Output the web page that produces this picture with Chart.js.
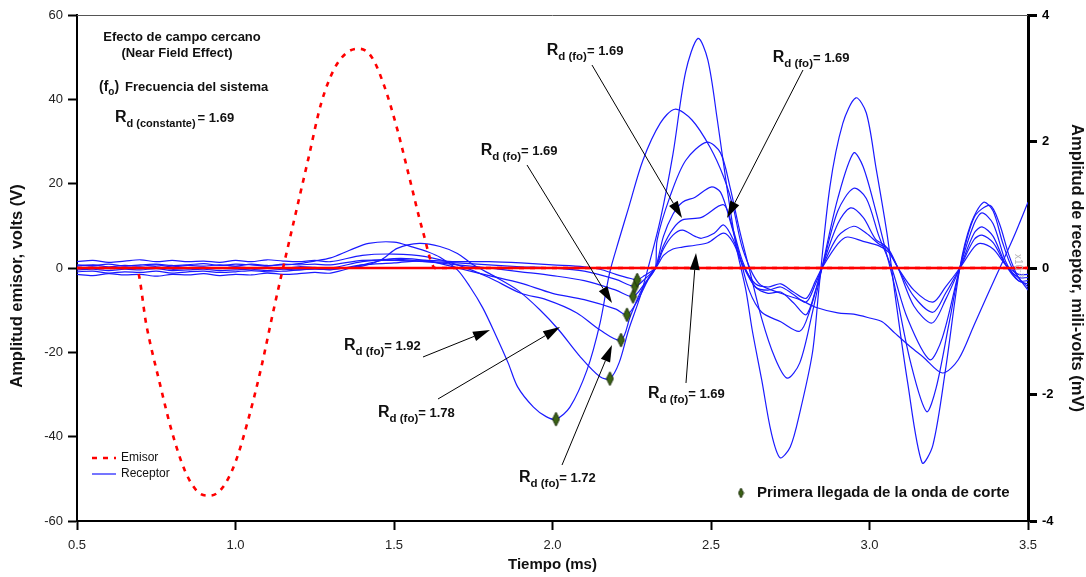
<!DOCTYPE html>
<html>
<head>
<meta charset="utf-8">
<script src="https://cdn.jsdelivr.net/npm/chart.js@4.4.1/dist/chart.umd.min.js"></script>
<style>
  html, body { margin: 0; padding: 0; background: #ffffff; }
  #wrap { width: 1086px; height: 577px; }
</style>
</head>
<body>
<div id="wrap"><canvas id="c" width="1086" height="577"></canvas></div>
<script>
// ---- Emitter pulse (V) ----
const emisorT = [0.50,0.687,0.72,0.76,0.80,0.84,0.88,0.92,0.96,1.00,1.04,1.08,1.12,1.15,1.19,1.23,1.27,1.31,1.35,1.39,1.43,1.47,1.51,1.55,1.59,1.63,3.50];
const emisorV = [0,0,-14,-27,-39,-48,-53,-54,-52,-46,-36,-24,-10,0,13,26,39,47,51,52,50,43,33,21,9,0,0];

// ---- Receiver traces (mV): pre-signal noise on a shared grid ----
const tEarly = [0.50,0.55,0.60,0.65,0.70,0.75,0.80,0.85,0.90,0.95,1.00,1.05,1.10,1.15,1.20,1.25];
const noiseA = [0.03,0.05,0.02,0.04,0.03,0.05,0.02,0.04,0.03,0.05,0.03,0.06,0.04,0.05,0.07,0.11];
const noiseB = [-0.06,-0.05,-0.08,-0.06,-0.07,-0.05,-0.08,-0.06,-0.05,-0.07,-0.06,-0.04,-0.06,-0.05,-0.03,-0.02];
const noiseC = [0.10,0.12,0.09,0.11,0.13,0.10,0.12,0.10,0.11,0.09,0.12,0.10,0.13,0.11,0.10,0.12];
const noiseD = [-0.10,-0.12,-0.09,-0.11,-0.10,-0.13,-0.10,-0.11,-0.09,-0.12,-0.10,-0.11,-0.08,-0.10,-0.09,-0.07];
const noiseE = [0.00,0.02,-0.01,0.01,0.00,0.02,-0.02,0.00,0.01,-0.01,0.02,0.00,0.01,-0.01,0.02,0.01];
const noiseF = [0.05,0.04,0.06,0.03,0.05,0.06,0.04,0.05,0.07,0.04,0.06,0.05,0.03,0.06,0.05,0.06];
const noiseG = [-0.03,-0.02,-0.04,-0.02,-0.03,-0.01,-0.04,-0.03,-0.02,-0.04,-0.03,-0.02,-0.04,-0.02,-0.03,-0.01];

// ---- Receiver traces (mV): signal part ----
const tA = [1.30,1.36,1.42,1.50,1.56,1.61,1.645,1.70,1.74,1.78,1.82,1.86,1.89,1.94,1.98,2.011,2.055,2.109,2.15,2.18,2.21,2.24,2.285,2.34,2.386,2.44,2.497,2.54,2.57,2.60,2.65,2.72,2.78,2.83,2.90,2.95,3.00,3.04,3.08,3.13,3.17,3.23,3.28,3.33,3.37,3.42,3.46,3.50];
const vA = [0.16,0.28,0.39,0.41,0.33,0.25,0.17,-0.03,-0.30,-0.63,-1.05,-1.50,-1.88,-2.20,-2.35,-2.39,-2.20,-1.61,-0.87,-0.08,0.45,0.95,1.70,2.29,2.51,2.34,1.91,1.44,0.96,0.30,-0.24,-0.40,-0.50,-0.62,-0.71,-0.73,-0.79,-0.85,-1.03,-1.25,-1.41,-1.66,-1.45,-0.90,-0.45,0.10,0.55,1.04];

const tB = [1.30,1.40,1.46,1.51,1.58,1.645,1.70,1.75,1.82,1.89,1.96,2.02,2.087,2.15,2.181,2.21,2.24,2.276,2.30,2.34,2.38,2.42,2.459,2.49,2.52,2.55,2.58,2.61,2.63,2.66,2.69,2.718,2.75,2.78,2.82,2.84,2.875,2.916,2.957,2.99,3.02,3.055,3.08,3.12,3.166,3.20,3.24,3.285,3.32,3.36,3.39,3.42,3.45,3.50];
const vB = [-0.02,0.03,0.13,0.31,0.39,0.34,0.23,0.05,-0.14,-0.35,-0.66,-0.98,-1.40,-1.72,-1.75,-1.50,-0.98,-0.46,-0.03,0.76,1.80,3.10,3.63,3.29,2.34,1.28,0.33,-0.35,-0.98,-1.77,-2.60,-3.00,-2.83,-2.29,-1.34,-0.35,1.28,2.29,2.69,2.45,1.60,0.55,-0.40,-1.80,-3.08,-2.80,-1.60,0.00,0.70,1.04,0.90,0.40,0.00,-0.35];

const tC = [1.30,1.40,1.50,1.60,1.70,1.80,1.90,1.98,2.077,2.15,2.216,2.245,2.276,2.31,2.325,2.33,2.37,2.42,2.487,2.53,2.56,2.59,2.62,2.66,2.70,2.74,2.78,2.82,2.85,2.90,2.95,2.98,3.02,3.05,3.08,3.13,3.18,3.21,3.25,3.285,3.33,3.38,3.41,3.44,3.47,3.50];
const vC = [0.10,0.20,0.22,0.18,0.05,-0.15,-0.40,-0.50,-0.71,-0.98,-1.14,-0.77,-0.40,-0.10,0.00,0.44,1.12,1.70,1.99,1.82,1.28,0.60,0.00,-0.80,-1.40,-1.74,-1.50,-0.70,0.00,1.10,1.82,1.60,0.90,0.30,-0.30,-1.50,-2.27,-1.90,-0.90,0.00,0.80,0.99,0.70,0.20,-0.15,-0.30];

const tD = [1.30,1.40,1.50,1.60,1.70,1.80,1.90,2.00,2.10,2.20,2.235,2.27,2.30,2.325,2.35,2.38,2.41,2.45,2.50,2.53,2.56,2.59,2.62,2.66,2.72,2.78,2.81,2.85,2.90,2.95,2.99,3.03,3.07,3.12,3.19,3.23,3.285,3.33,3.355,3.39,3.43,3.47,3.50];
const vD = [-0.08,0.05,0.15,0.12,0.00,-0.12,-0.24,-0.40,-0.50,-0.65,-0.74,-0.50,-0.20,0.00,0.50,0.85,1.04,1.12,1.28,1.20,0.75,0.20,-0.35,-0.70,-0.85,-1.00,-0.70,0.00,0.90,1.26,1.10,0.50,0.00,-0.80,-1.45,-1.10,0.00,0.70,0.87,0.70,0.10,-0.20,-0.25];

const tE = [1.30,1.40,1.50,1.60,1.70,1.80,1.90,2.00,2.10,2.20,2.254,2.29,2.325,2.35,2.38,2.41,2.47,2.54,2.57,2.60,2.64,2.68,2.72,2.76,2.80,2.83,2.85,2.90,2.94,2.98,3.02,3.05,3.09,3.14,3.197,3.24,3.285,3.33,3.355,3.39,3.43,3.47,3.50];
const vE = [0.00,0.10,0.14,0.10,0.05,0.00,-0.06,-0.12,-0.20,-0.35,-0.45,-0.25,0.00,0.35,0.62,0.76,0.80,1.00,0.60,0.10,-0.30,-0.40,-0.38,-0.55,-0.74,-0.35,0.00,0.70,0.95,0.80,0.45,0.35,0.00,-0.60,-0.87,-0.50,0.00,0.55,0.65,0.50,0.05,-0.20,-0.20];

const tF = [1.30,1.40,1.50,1.60,1.70,1.80,1.90,2.00,2.10,2.20,2.26,2.29,2.325,2.35,2.38,2.41,2.45,2.47,2.51,2.54,2.57,2.60,2.64,2.68,2.72,2.76,2.80,2.83,2.85,2.90,2.95,2.99,3.03,3.06,3.09,3.14,3.20,3.24,3.285,3.33,3.355,3.39,3.43,3.47,3.50];
const vF = [0.05,0.12,0.12,0.10,0.08,0.05,0.02,0.00,-0.05,-0.18,-0.29,-0.18,0.00,0.30,0.52,0.60,0.50,0.47,0.55,0.68,0.45,0.05,-0.30,-0.35,-0.30,-0.42,-0.54,-0.25,0.00,0.50,0.66,0.55,0.38,0.30,0.00,-0.45,-0.70,-0.40,0.00,0.45,0.52,0.40,0.05,-0.15,-0.15];

const tG = [1.30,1.40,1.50,1.60,1.70,1.80,1.90,2.00,2.10,2.15,2.20,2.25,2.267,2.29,2.325,2.35,2.38,2.41,2.45,2.49,2.54,2.57,2.60,2.64,2.68,2.72,2.76,2.80,2.83,2.85,2.90,2.93,2.98,3.03,3.06,3.09,3.14,3.20,3.24,3.285,3.33,3.35,3.39,3.43,3.47,3.50];
const vG = [-0.03,0.05,0.08,0.12,0.10,0.10,0.08,0.05,0.02,-0.02,-0.10,-0.17,-0.19,-0.12,0.00,0.20,0.30,0.33,0.36,0.40,0.55,0.40,0.05,-0.25,-0.30,-0.25,-0.38,-0.48,-0.20,0.00,0.38,0.49,0.42,0.35,0.25,0.00,-0.35,-0.54,-0.30,0.00,0.33,0.39,0.30,0.05,-0.10,-0.10];

// ---- First shear-wave arrivals (ms, mV) ----
const arrivalT = [2.011,2.181,2.216,2.235,2.254,2.260,2.267];
const arrivalV = [-2.39,-1.75,-1.14,-0.74,-0.45,-0.29,-0.19];

// ---- Axis ticks ----
const xTicks = [0.5,1.0,1.5,2.0,2.5,3.0,3.5];
const yLeftTicks = [-60,-40,-20,0,20,40,60];
const yRightTicks = [-4,-2,0,2,4];

// ---- Callouts: label value, text anchor, arrow tail and tip (ms, mV on right axis) ----
const noteValue = ['1.69','1.69','1.69','1.92','1.78','1.72','1.69'];
const noteTextT = [1.9815,2.6946,1.7735,1.3423,1.4495,1.8943,2.3013];
const noteTextV = [3.368,3.2617,1.7866,-1.2964,-2.356,-3.383,-2.055];
const noteTailT = [2.1246,2.7902,1.9196,1.5915,1.6388,2.0300,2.4211];
const noteTailV = [3.209,3.1304,1.6285,-1.407,-2.071,-3.115,-1.818];
const noteTipT  = [2.4085,2.5505,2.1877,1.8028,2.0237,2.1877,2.4527];
const noteTipV  = [0.7905,0.7905,-0.5534,-0.980,-0.933,-1.217,0.237];

const FAM = "'Liberation Sans', Arial, Helvetica, sans-serif";
Chart.defaults.font.family = FAM;
Chart.defaults.color = '#222';

const BLUE = '#1a1aff';
const RED = '#ff0000';

function trace(noise, t, v) {
  return tEarly.map((tt, i) => ({ x: tt, y: noise[i] }))
    .concat(t.map((tt, i) => ({ x: tt, y: v[i] })));
}
const receptorSets = [
  trace(noiseA, tA, vA), trace(noiseB, tB, vB), trace(noiseC, tC, vC),
  trace(noiseD, tD, vD), trace(noiseE, tE, vE), trace(noiseF, tF, vF), trace(noiseG, tG, vG)
];

// tall diamond marker
function diamond(w, h) {
  const c = document.createElement('canvas');
  c.width = w + 2; c.height = h + 2;
  const g = c.getContext('2d');
  g.beginPath();
  g.moveTo(c.width / 2, 1);
  g.lineTo(c.width - 1, c.height / 2);
  g.lineTo(c.width / 2, c.height - 1);
  g.lineTo(1, c.height / 2);
  g.closePath();
  g.fillStyle = '#3b6314';
  g.fill();
  g.lineWidth = 1;
  g.strokeStyle = '#1c2e0a';
  g.stroke();
  return c;
}
const diamondMark = diamond(7, 14);
const diamondSmall = diamond(5, 10);

const datasets = [
  {
    label: 'Emisor',
    data: emisorT.map((t, i) => ({ x: t, y: emisorV[i] })),
    yAxisID: 'yL',
    borderColor: RED,
    borderWidth: 2.6,
    borderDash: [5, 6],
    pointRadius: 0,
    cubicInterpolationMode: 'monotone',
    order: 1
  },
  {
    label: 'Primera llegada',
    type: 'scatter',
    data: arrivalT.map((t, i) => ({ x: t, y: arrivalV[i] })),
    yAxisID: 'yR',
    pointStyle: diamondMark,
    pointRadius: 7,
    showLine: false,
    order: 0
  }
].concat(receptorSets.map((d, i) => ({
  label: 'Receptor ' + (i + 1),
  data: d,
  yAxisID: 'yR',
  borderColor: BLUE,
  borderWidth: 1.2,
  pointRadius: 0,
  tension: 0.3,
  order: 2
})));

function rich(ctx, x, y, parts) {
  let cx = x;
  ctx.textBaseline = 'alphabetic';
  ctx.textAlign = 'left';
  for (const p of parts) {
    ctx.font = (p.w || 'bold') + ' ' + p.s + 'px ' + FAM;
    ctx.fillText(p.t, cx, y + (p.dy || 0));
    cx += ctx.measureText(p.t).width + (p.gap || 0);
  }
  return cx;
}

function arrow(ctx, x1, y1, x2, y2) {
  const a = Math.atan2(y2 - y1, x2 - x1);
  const L = 17, W = 5;
  const bx = x2 - L * Math.cos(a), by = y2 - L * Math.sin(a);
  ctx.strokeStyle = '#000';
  ctx.fillStyle = '#000';
  ctx.lineWidth = 1;
  ctx.beginPath();
  ctx.moveTo(x1, y1);
  ctx.lineTo(bx, by);
  ctx.stroke();
  ctx.beginPath();
  ctx.moveTo(x2, y2);
  ctx.lineTo(bx + W * Math.sin(a), by - W * Math.cos(a));
  ctx.lineTo(bx - W * Math.sin(a), by + W * Math.cos(a));
  ctx.closePath();
  ctx.fill();
}

const decor = {
  id: 'decor',
  afterDatasetDraw(chart, args) {
    if (args.index !== 0) return;
    // zero reference line
    const { ctx, chartArea: ca, scales } = chart;
    const y0 = scales.yR.getPixelForValue(0);
    ctx.save();
    ctx.strokeStyle = RED;
    ctx.lineWidth = 2.4;
    ctx.beginPath();
    ctx.moveTo(ca.left, y0);
    ctx.lineTo(ca.right, y0);
    ctx.stroke();
    ctx.restore();
  },
  afterDraw(chart) {
    const { ctx, chartArea: ca, scales } = chart;
    const sx = scales.x, sy = scales.yR;
    ctx.save();

    // frame top edge
    ctx.strokeStyle = '#555';
    ctx.lineWidth = 1;
    ctx.beginPath();
    ctx.moveTo(ca.left, ca.top + 0.5);
    ctx.lineTo(ca.right, ca.top + 0.5);
    ctx.stroke();

    // left axis title
    ctx.save();
    ctx.translate(17, 286);
    ctx.rotate(-Math.PI / 2);
    ctx.fillStyle = '#111';
    ctx.font = 'bold 16.5px ' + FAM;
    ctx.textAlign = 'center';
    ctx.textBaseline = 'middle';
    ctx.fillText('Amplitud emisor, volts (V)', 0, 0);
    ctx.restore();

    // faint exponent marker beside the right axis
    ctx.save();
    ctx.translate(ca.right - 13, sy.getPixelForValue(0) - 14);
    ctx.rotate(Math.PI / 2);
    ctx.fillStyle = '#b8b8b8';
    rich(ctx, 0, 0, [{ t: 'x10', s: 10, w: 'normal' }, { t: '-3', s: 8, w: 'normal', dy: -4 }]);
    ctx.restore();

    ctx.fillStyle = '#111';
    // heading block
    ctx.font = 'bold 13px ' + FAM;
    ctx.textAlign = 'center';
    ctx.textBaseline = 'alphabetic';
    ctx.fillText('Efecto de campo cercano', ca.left + 105, 41);
    ctx.fillText('(Near Field Effect)', ca.left + 100, 57);
    rich(ctx, ca.left + 22, 91, [
      { t: '(f', s: 14 }, { t: 'o', s: 10, dy: 4 }, { t: ')', s: 14, gap: 6 },
      { t: 'Frecuencia del sistema', s: 13 }
    ]);
    rich(ctx, ca.left + 38, 122, [
      { t: 'R', s: 16 }, { t: 'd (constante)', s: 11, dy: 5, gap: 2 }, { t: '= 1.69', s: 13 }
    ]);

    // callouts
    for (let i = 0; i < noteValue.length; i++) {
      ctx.fillStyle = '#111';
      rich(ctx, sx.getPixelForValue(noteTextT[i]), sy.getPixelForValue(noteTextV[i]), [
        { t: 'R', s: 16 }, { t: 'd (fo)', s: 11.5, dy: 5 }, { t: '= ' + noteValue[i], s: 13 }
      ]);
      arrow(ctx,
        sx.getPixelForValue(noteTailT[i]), sy.getPixelForValue(noteTailV[i]),
        sx.getPixelForValue(noteTipT[i]), sy.getPixelForValue(noteTipV[i]));
    }

    // series key (lower left)
    const kx = ca.left + 15;
    ctx.strokeStyle = RED;
    ctx.lineWidth = 2.6;
    ctx.setLineDash([5, 6]);
    ctx.beginPath(); ctx.moveTo(kx, 458); ctx.lineTo(kx + 24, 458); ctx.stroke();
    ctx.setLineDash([]);
    ctx.strokeStyle = BLUE;
    ctx.lineWidth = 1.2;
    ctx.beginPath(); ctx.moveTo(kx, 474); ctx.lineTo(kx + 24, 474); ctx.stroke();
    ctx.fillStyle = '#111';
    ctx.font = '12px ' + FAM;
    ctx.textAlign = 'left';
    ctx.textBaseline = 'middle';
    ctx.fillText('Emisor', kx + 29, 458);
    ctx.fillText('Receptor', kx + 29, 474);

    // marker key (lower right)
    ctx.drawImage(diamondSmall, 741 - diamondSmall.width / 2, 493 - diamondSmall.height / 2);
    ctx.font = 'bold 15px ' + FAM;
    ctx.fillText('Primera llegada de la onda de corte', 757, 493);

    ctx.restore();
  }
};

new Chart(document.getElementById('c'), {
  type: 'line',
  data: { datasets },
  options: {
    responsive: false,
    animation: false,
    devicePixelRatio: 1,
    layout: { padding: { top: 15, left: 0, right: 0, bottom: 0 } },
    plugins: { legend: { display: false }, tooltip: { enabled: false } },
    scales: {
      x: {
        type: 'linear',
        min: 0.5, max: 3.5,
        afterFit(s) { s.height = 56; },
        afterBuildTicks(s) { s.ticks = xTicks.map(v => ({ value: v })); },
        ticks: { callback: v => v.toFixed(1), font: { size: 13 }, color: '#222', padding: 8, maxRotation: 0 },
        grid: { display: true, drawOnChartArea: false, drawTicks: true, tickLength: 9, tickColor: '#000', tickWidth: 2 },
        border: { display: true, color: '#000', width: 2 },
        title: { display: true, text: 'Tiempo (ms)', font: { size: 15, weight: 'bold' }, color: '#111', padding: { top: 0, bottom: 3 } }
      },
      yL: {
        type: 'linear',
        position: 'left',
        min: -60, max: 60,
        afterFit(s) { s.width = 77; },
        afterBuildTicks(s) { s.ticks = yLeftTicks.map(v => ({ value: v })); },
        ticks: { font: { size: 13 }, color: '#222', padding: 5 },
        grid: { display: true, drawOnChartArea: false, drawTicks: true, tickLength: 9, tickColor: '#000', tickWidth: 2 },
        border: { display: true, color: '#000', width: 2 },
        title: { display: false }
      },
      yR: {
        type: 'linear',
        position: 'right',
        min: -4, max: 4,
        afterFit(s) { s.width = 58; },
        afterBuildTicks(s) { s.ticks = yRightTicks.map(v => ({ value: v })); },
        ticks: { font: { size: 13, weight: 'bold' }, color: '#000', padding: 5 },
        grid: { display: true, drawOnChartArea: false, drawTicks: true, tickLength: 9, tickColor: '#000', tickWidth: 3 },
        border: { display: true, color: '#000', width: 3 },
        title: { display: true, text: 'Amplitud de receptor, mili-volts (mV)', font: { size: 16.5, weight: 'bold' }, color: '#111', padding: { top: 0, bottom: 0 } }
      }
    }
  },
  plugins: [decor]
});
</script>
</body>
</html>
